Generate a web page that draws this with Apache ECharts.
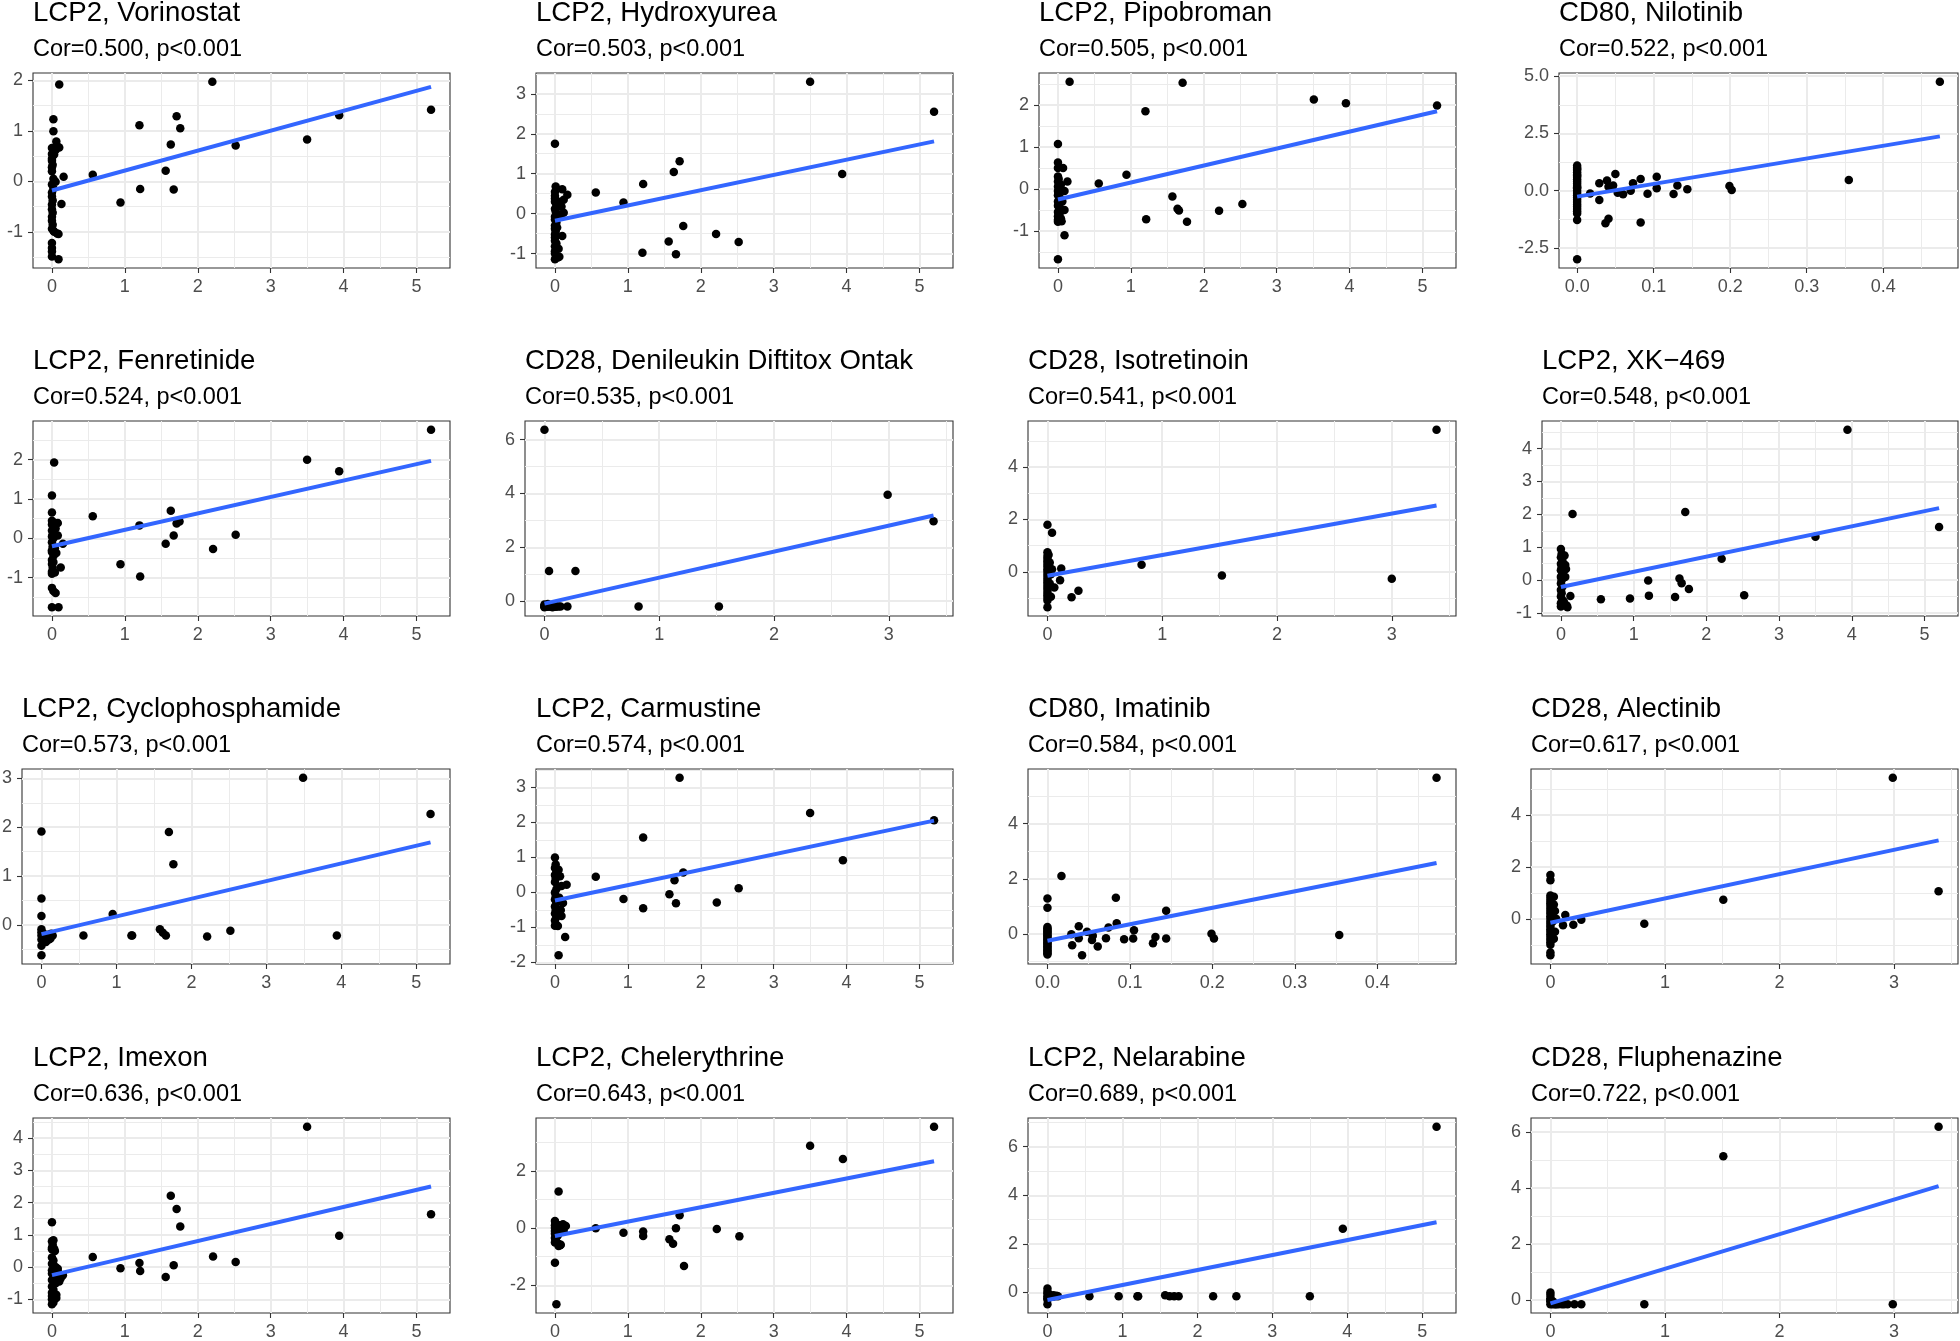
<!DOCTYPE html>
<html><head><meta charset="utf-8">
<script src="https://cdn.jsdelivr.net/npm/echarts@6/dist/echarts.min.js"></script>
<style>html,body{margin:0;padding:0;background:#fff}#c{width:1960px;height:1341px}</style>
</head><body><div id="c"></div>
<script>
// ---------------- DATA ----------------
const panelTitles = ['LCP2, Vorinostat','LCP2, Hydroxyurea','LCP2, Pipobroman','CD80, Nilotinib',
  'LCP2, Fenretinide','CD28, Denileukin Diftitox Ontak','CD28, Isotretinoin','LCP2, XK\u2212469',
  'LCP2, Cyclophosphamide','LCP2, Carmustine','CD80, Imatinib','CD28, Alectinib',
  'LCP2, Imexon','LCP2, Chelerythrine','LCP2, Nelarabine','CD28, Fluphenazine'];
const corValues = ['0.500','0.503','0.505','0.522','0.524','0.535','0.541','0.548',
  '0.573','0.574','0.584','0.617','0.636','0.643','0.689','0.722'];
const pValues = ['p<0.001','p<0.001','p<0.001','p<0.001','p<0.001','p<0.001','p<0.001','p<0.001',
  'p<0.001','p<0.001','p<0.001','p<0.001','p<0.001','p<0.001','p<0.001','p<0.001'];

const ticks0to5 = ['0','1','2','3','4','5'];
const ticks0to3 = ['0','1','2','3'];
const ticksCD80 = ['0.0','0.1','0.2','0.3','0.4'];
const xTickLabels = [ticks0to5,ticks0to5,ticks0to5,ticksCD80, ticks0to5,ticks0to3,ticks0to3,ticks0to5,
  ticks0to5,ticks0to5,ticksCD80,ticks0to3, ticks0to5,ticks0to5,ticks0to5,ticks0to3];
const yTickLabels = [
  ['-1','0','1','2'], ['-1','0','1','2','3'], ['-1','0','1','2'], ['-2.5','0.0','2.5','5.0'],
  ['-1','0','1','2'], ['0','2','4','6'], ['0','2','4'], ['-1','0','1','2','3','4'],
  ['0','1','2','3'], ['-2','-1','0','1','2','3'], ['0','2','4'], ['0','2','4'],
  ['-1','0','1','2','3','4'], ['-2','0','2'], ['0','2','4','6'], ['0','2','4','6']];

const vorinostatPts = [[0.56,0.13],[0.94,-0.42],[1.2,1.11],[1.21,-0.15],[1.56,0.21],[1.63,0.73],[1.67,-0.16],[1.71,1.29],[1.76,1.05],[2.2,1.97],[2.52,0.71],[3.5,0.83],[3.94,1.31],[5.2,1.42],
  [0.1,1.92],[0.02,1.23],[0.02,0.99],[0.06,0.79],[0,0.66],[0.1,0.67],[0.05,0.62],[0,0.54],[0.03,0.53],[0.07,0.7],[0,0.45],[0,0.41],[0.01,0.33],[0,0.28],[0,0.2],[0.16,0.09],[0.05,-0.01],[0,-0.06],[0.02,-0.14],[0.13,-0.45],[0,-0.22],[0,-0.3],[0.01,-0.38],[0,-0.46],[0,-0.55],[0.01,-0.62],[0,-0.7],[0,-0.78],[0.01,-0.86],[0,-0.94],[0.07,-1.03],[0.09,-1.04],[0.03,-1.0],[0,-1.22],[0,-1.32],[0,-1.39],[0,-1.49],[0.09,-1.54],[0.02,-0.98],[0.02,0.05]];
const vorinostatFit = [[0,-0.18],[5.2,1.87]];

const hydroxyureaPts = [[3.5,3.30],[5.2,2.55],[3.94,0.99],[2.52,-0.71],[2.21,-0.51],[1.76,-0.31],[1.71,1.31],[1.63,1.04],[1.56,-0.70],[1.66,-1.02],[1.21,0.74],[1.2,-0.98],[0.94,0.28],[0.56,0.53],[0,1.75],
  [0.01,0.68],[0.1,0.61],[0.17,0.47],[0.12,0.35],[0.05,0.3],[0,0.55],[0,0.45],[0,0.38],[0,0.3],[0.02,0.2],[0,0.12],[0.01,0.05],[0.08,-0.02],[0.12,0.02],[0,-0.08],[0,-0.15],[0.02,-0.22],[0,-0.3],[0,-0.38],[0.01,-0.45],[0.1,-0.56],[0,-0.52],[0,-0.6],[0,-0.68],[0.02,-0.75],[0,-0.82],[0.05,-0.88],[0,-0.94],[0,-1.0],[0.06,-1.08],[0.04,-1.1],[0,-1.14],[0.09,0.18],[0.03,-0.35]];
const hydroxyureaFit = [[0,-0.18],[5.2,1.81]];

const pipobromanPts = [[0.16,2.55],[1.71,2.53],[3.51,2.13],[3.95,2.04],[5.2,1.99],[1.2,1.85],[0.94,0.34],[0.56,0.13],[1.57,-0.18],[1.64,-0.47],[1.66,-0.51],[1.77,-0.78],[1.21,-0.72],[2.21,-0.52],[2.53,-0.36],[0.09,-1.1],[0,-1.67],
  [0.13,0.18],[0.07,0.5],[0,1.07],[0,0.63],[0,0.5],[0.05,-0.77],[0,-0.73],[0,0.3],[0.01,0.24],[0,0.18],[0.02,0.12],[0,0.06],[0.03,0.0],[0,-0.05],[0.09,-0.05],[0.01,-0.1],[0,-0.15],[0.02,-0.2],[0.05,-0.25],[0,-0.3],[0.01,-0.35],[0,-0.4],[0.03,-0.45],[0.09,-0.5],[0,-0.55],[0.02,-0.6],[0,-0.65],[0.04,-0.7],[0.06,-0.3],[0.04,0.1],[0.02,-0.02],[0,-0.78]];
const pipobromanFit = [[0,-0.25],[5.2,1.85]];

const nilotinibPts = [[0.474,4.75],[0.355,0.46],[0.199,0.2],[0.202,0.03],[0.144,0.06],[0.131,0.22],[0.126,-0.15],[0.104,0.61],[0.104,0.1],[0.092,-0.14],[0.083,0.51],[0.083,-1.39],[0.073,0.32],[0.07,0.0],[0.06,-0.16],[0.05,0.73],[0.047,0.22],[0.041,0.17],[0.039,0.44],[0.037,-1.42],[0.041,-1.23],[0.029,0.32],[0.029,-0.41],[0.053,-0.09],[0.017,-0.12],[0,-2.99],[0,-1.28],
  [0,1.1],[0,1.0],[0,0.9],[0,0.8],[0,0.7],[0,0.6],[0,0.5],[0,0.4],[0,0.3],[0,0.2],[0,0.1],[0,0],[0,-0.1],[0,-0.2],[0,-0.3],[0,-0.4],[0,-0.5],[0,-0.6],[0,-0.7],[0,-0.8],[0,-0.9],[0,-1.0],[0,0.95],[0,0.65],[0,0.15]];
const nilotinibFit = [[0,-0.26],[0.474,2.37]];

const fenretinidePts = [[5.2,2.76],[3.5,2.0],[3.94,1.71],[0.56,0.56],[1.63,0.70],[1.2,0.33],[1.75,0.43],[1.71,0.38],[1.67,0.07],[1.56,-0.14],[2.52,0.09],[2.21,-0.27],[0.94,-0.66],[1.21,-0.97],
  [0.03,1.93],[0,1.09],[0.15,-0.14],[0.12,-0.74],[0,0.66],[0,0.45],[0.03,0.4],[0.08,0.39],[0,0.35],[0.02,0.3],[0,0.2],[0.01,0.1],[0.08,0.07],[0,0.05],[0.02,0],[0,-0.1],[0.01,-0.2],[0,-0.3],[0.06,-0.37],[0,-0.35],[0.02,-0.45],[0,-0.55],[0,-0.65],[0.01,-0.75],[0,-0.85],[0.04,-0.87],[0,-0.9],[0,-1.26],[0.02,-1.34],[0.05,-1.39],[0,-1.75],[0.09,-1.75],[0.05,0.25],[0.04,-0.25],[0.02,-0.6]];
const fenretinideFit = [[0,-0.2],[5.2,1.97]];

const denileukinPts = [[0,6.36],[2.99,3.95],[3.39,2.97],[0.04,1.12],[0.27,1.12],[0.82,-0.2],[1.52,-0.2],[0.2,-0.2],
  [0,-0.2],[0,-0.18],[0,-0.22],[0.01,-0.2],[0.02,-0.21],[0.03,-0.1],[0.03,-0.19],[0.04,-0.2],[0.05,-0.2],[0.06,-0.15],[0.08,-0.2],[0.1,-0.18],[0.1,-0.21],[0.12,-0.2],[0.14,-0.2],[0,-0.12],[0.02,-0.16],[0.07,-0.22]];
const denileukinFit = [[0,-0.09],[3.39,3.18]];

const isotretinoinPts = [[3.39,5.42],[0,1.8],[0.04,1.49],[0.82,0.27],[1.52,-0.14],[3.0,-0.27],[0.27,-0.72],[0.21,-0.97],[0.12,0.13],[0.11,-0.32],[0.03,-0.95],[0.04,0.1],[0.03,-0.09],[0.06,-0.6],
  [0,0.75],[0,0.6],[0,0.5],[0,0.4],[0,0.3],[0,0.2],[0,0.1],[0,0],[0,-0.1],[0,-0.2],[0,-0.3],[0,-0.4],[0,-0.5],[0,-0.6],[0,-0.7],[0,-0.8],[0,-0.9],[0,-1.0],[0,-1.1],[0,-1.35],[0.02,0.35],[0.02,-0.45],[0.01,0.65]];
const isotretinoinFit = [[0,-0.15],[3.39,2.53]];

const xk469Pts = [[3.94,4.57],[1.71,2.07],[0.16,2.01],[5.2,1.62],[3.5,1.32],[2.21,0.65],[1.63,0.05],[1.66,-0.09],[1.2,-0.01],[1.76,-0.27],[1.57,-0.51],[1.21,-0.47],[2.52,-0.46],[0.55,-0.58],[0.95,-0.56],[0.13,-0.48],
  [0,0.95],[0.01,0.8],[0,0.7],[0.02,0.6],[0,0.5],[0.01,0.4],[0,0.3],[0.02,0.2],[0,0.1],[0.01,0],[0,-0.1],[0.02,-0.2],[0,-0.3],[0.01,-0.4],[0,-0.5],[0.02,-0.6],[0,-0.7],[0.01,-0.75],[0,-0.8],[0.07,0.34],[0.06,0.46],[0.08,-0.77],[0.09,-0.82],[0.05,0.75],[0.04,-0.65],[0.06,0.1]];
const xk469Fit = [[0,-0.21],[5.2,2.19]];

const cyclophosphamidePts = [[3.49,3.01],[5.19,2.27],[1.7,1.9],[1.76,1.24],[0.95,0.22],[0.56,-0.22],[1.21,-0.22],[1.2,-0.22],[1.58,-0.09],[1.62,-0.16],[1.66,-0.22],[2.21,-0.24],[2.52,-0.12],[3.94,-0.22],
  [0,1.91],[0,0.54],[0,0.18],[0,-0.62],[0,-0.43],[0.05,-0.31],[0,-0.09],[0,-0.22],[0.08,-0.22],[0.12,-0.28],[0.15,-0.22],[0.1,-0.3],[0.06,-0.35],[0.02,-0.25],[0,-0.15],[0.03,-0.18],[0.09,-0.2],[0.13,-0.18],[0,-0.3],[0.04,-0.24]];
const cyclophosphamideFit = [[0,-0.19],[5.19,1.69]];

const carmustinePts = [[1.71,3.27],[3.5,2.27],[5.2,2.06],[1.21,1.57],[3.95,0.92],[1.76,0.57],[1.64,0.35],[0.56,0.45],[0.16,0.22],[2.52,0.12],[1.57,-0.05],[0.94,-0.19],[1.66,-0.31],[2.22,-0.29],[1.21,-0.45],[0.14,-1.27],[0.05,-1.79],
  [0,1.0],[0.01,0.8],[0,0.7],[0.02,0.6],[0,0.5],[0.01,0.4],[0,0.3],[0.02,0.1],[0,0],[0.01,-0.1],[0,-0.2],[0.02,-0.3],[0,-0.4],[0.01,-0.5],[0,-0.6],[0.02,-0.7],[0,-0.8],[0.01,-0.9],[0,-0.95],[0.07,0.46],[0.09,0.18],[0.11,-0.3],[0.09,-0.67],[0.04,-0.96],[0.05,0.65],[0.08,-0.5],[0.06,-0.15]];
const carmustineFit = [[0,-0.23],[5.2,2.05]];

const imatinibPts = [[0.472,5.66],[0.017,2.1],[0.083,1.31],[0,1.28],[0,0.95],[0.144,0.84],[0.084,0.39],[0.038,0.28],[0.074,0.23],[0.105,0.13],[0.048,0.08],[0.029,-0.01],[0.354,-0.04],[0.199,0.01],[0.202,-0.17],[0.131,-0.11],[0.128,-0.34],[0.144,-0.17],[0.104,-0.17],[0.093,-0.19],[0.071,-0.16],[0.054,-0.22],[0.061,-0.46],[0.038,-0.16],[0.03,-0.41],[0.042,-0.77],[0.055,-0.07],
  [0,0.25],[0,0.15],[0,0.05],[0,-0.05],[0,-0.15],[0,-0.25],[0,-0.35],[0,-0.45],[0,-0.55],[0,-0.65],[0,-0.75],[0,0.2],[0,0.1],[0,0],[0,-0.1],[0,-0.2],[0,-0.3],[0,-0.4],[0,-0.5],[0,-0.6],[0,-0.7]];
const imatinibFit = [[0,-0.25],[0.472,2.57]];

const alectinibPts = [[2.99,5.43],[3.39,1.06],[1.51,0.73],[0.82,-0.19],[0,1.69],[0,1.49],[0.13,0.15],[0.2,-0.23],[0.27,-0.04],[0.11,-0.25],[0.03,-0.77],
  [0,0.9],[0,0.8],[0,0.7],[0,0.6],[0,0.5],[0,0.4],[0,0.3],[0,0.2],[0,0.1],[0,0],[0,-0.1],[0,-0.2],[0,-0.3],[0,-0.4],[0,-0.5],[0,-0.6],[0,-0.7],[0,-0.8],[0,-0.9],[0,-1.0],[0,-1.3],[0,-1.4],[0.03,0.85],[0.03,0.55],[0.04,0.3],[0.02,-0.1],[0.04,-0.5],[0.05,0]];
const alectinibFit = [[0,-0.15],[3.39,3.02]];

const imexonPts = [[3.5,4.35],[1.63,2.21],[1.71,1.8],[1.76,1.26],[5.2,1.64],[3.94,0.97],[2.21,0.33],[2.52,0.16],[0.56,0.31],[0.94,-0.04],[1.2,0.13],[1.21,-0.12],[1.67,0.06],[1.56,-0.31],
  [0,1.39],[0.02,0.83],[0.03,0.57],[0,0.8],[0.01,0.7],[0,0.6],[0,0.55],[0,0.3],[0.02,0.2],[0,0.1],[0.05,0],[0,-0.1],[0.08,-0.05],[0,-0.2],[0.15,-0.25],[0.03,-0.3],[0,-0.4],[0.1,-0.45],[0.05,-0.5],[0,-0.6],[0.02,-0.7],[0,-0.8],[0.06,-0.86],[0.06,-0.96],[0,-0.9],[0,-1.0],[0.02,-1.1],[0,-1.15],[0.12,-0.35],[0.08,-0.15],[0.04,0.5]];
const imexonFit = [[0,-0.25],[5.2,2.5]];

const chelerythrinePts = [[5.2,3.54],[3.5,2.88],[3.95,2.42],[1.71,0.45],[1.66,-0.01],[2.22,-0.03],[0.56,-0.01],[0.94,-0.16],[1.21,-0.12],[1.21,-0.28],[1.57,-0.39],[1.62,-0.55],[2.53,-0.29],[1.77,-1.33],
  [0.05,1.28],[0,-1.21],[0.02,-2.66],[0,0.25],[0.01,0.15],[0,0.1],[0.03,0.05],[0,0],[0.02,-0.05],[0,-0.1],[0.01,-0.15],[0,-0.2],[0.02,-0.3],[0,-0.35],[0.01,-0.4],[0,-0.5],[0.05,-0.55],[0.07,-0.6],[0.15,0.07],[0.11,0.13],[0.08,-0.58],[0.05,-0.63],[0.09,0.0],[0.12,-0.1],[0.06,0.1],[0.04,-0.25]];
const chelerythrineFit = [[0,-0.28],[5.2,2.34]];

const nelarabinePts = [[5.19,6.82],[3.94,2.62],[3.5,-0.16],[2.52,-0.16],[2.21,-0.16],[1.75,-0.16],[1.69,-0.16],[1.63,-0.16],[1.57,-0.12],[1.2,-0.16],[1.21,-0.16],[0.95,-0.16],[0.56,-0.16],[0,0.15],[0,-0.49],
  [0,-0.16],[0.02,-0.16],[0.04,-0.14],[0.05,-0.16],[0.07,-0.18],[0.1,-0.16],[0.12,-0.14],[0.14,-0.16],[0,-0.05],[0,-0.25],[0,-0.3],[0.02,-0.2],[0,0.02],[0.03,-0.1],[0.08,-0.12]];
const nelarabineFit = [[0,-0.32],[5.19,2.89]];

const fluphenazinePts = [[3.39,6.19],[1.51,5.14],[2.99,-0.15],[0.82,-0.15],[0,0.27],[0,0.18],[0,0.06],[0.27,-0.15],[0.21,-0.15],[0.12,-0.15],[0.07,-0.15],
  [0,-0.15],[0.01,-0.12],[0.02,-0.15],[0.03,-0.1],[0.04,-0.15],[0.05,-0.15],[0.1,-0.15],[0.15,-0.15],[0,-0.05],[0.02,-0.05],[0,0.0]];
const fluphenazineFit = [[0,-0.12],[3.39,4.07]];

const pointSets = [vorinostatPts,hydroxyureaPts,pipobromanPts,nilotinibPts,fenretinidePts,denileukinPts,isotretinoinPts,xk469Pts,
  cyclophosphamidePts,carmustinePts,imatinibPts,alectinibPts,imexonPts,chelerythrinePts,nelarabinePts,fluphenazinePts];
const fitSets = [vorinostatFit,hydroxyureaFit,pipobromanFit,nilotinibFit,fenretinideFit,denileukinFit,isotretinoinFit,xk469Fit,
  cyclophosphamideFit,carmustineFit,imatinibFit,alectinibFit,imexonFit,chelerythrineFit,nelarabineFit,fluphenazineFit];

// ---------------- LAYOUT ----------------
const rowTops = [73, 421, 769, 1118];
const rowHeight = 195;
const colBoxes = [
  [[33,450],[536,953],[1039,1456],[1559,1958]],
  [[33,450],[525,953],[1028,1456],[1542,1958]],
  [[22,450],[536,953],[1028,1456],[1531,1958]],
  [[33,450],[536,953],[1028,1456],[1531,1958]]];
const FONT = "'Liberation Sans', Arial, Helvetica, sans-serif";
const TITLE_SIZE = 27.6, SUB_SIZE = 23.5, TICK_SIZE = 18;

function toNum(s){ return parseFloat(s.replace('\u2212','-')); }
function extent(vals){
  const mn = Math.min(...vals), mx = Math.max(...vals);
  const pad = (mx - mn) * 0.05;
  return [mn - pad, mx + pad];
}
function minorVals(ticks, lo, hi){
  const step = ticks[1] - ticks[0];
  const out = [ticks[0] - step/2];
  for (let i = 0; i < ticks.length; i++) out.push(ticks[i] + step/2);
  return out.filter(v => v > lo && v < hi);
}

const grids = [], xAxes = [], yAxes = [], series = [], titles = [];
for (let i = 0; i < 16; i++) {
  const r = Math.floor(i / 4), c = i % 4;
  const [L, R] = colBoxes[r][c];
  const T = rowTops[r];
  grids.push({left: L, top: T, width: R - L, height: rowHeight, show: true,
    backgroundColor: '#FFFFFF', borderColor: '#333333', borderWidth: 1.1, outerBoundsMode: 'none', containLabel: false});
  const pts = pointSets[i], fit = fitSets[i];
  const allX = pts.map(p => p[0]).concat(fit.map(p => p[0]));
  const allY = pts.map(p => p[1]).concat(fit.map(p => p[1]));
  const [x0, x1] = extent(allX), [y0, y1] = extent(allY);
  const xl = xTickLabels[i], yl = yTickLabels[i];
  const xv = xl.map(toNum), yv = yl.map(toNum);
  const fmt = (labels, vals) => v => { const k = vals.findIndex(t => Math.abs(t - v) < 1e-9); return k >= 0 ? labels[k] : ''; };
  const axisCommon = {
    type: 'value', gridIndex: i, splitLine: {show: false},
    axisLine: {show: false, onZero: false},
  };
  xAxes.push(Object.assign({}, axisCommon, {min: x0, max: x1,
    axisTick: {show: true, length: 5, lineStyle: {color: '#333333', width: 1.1}, customValues: xv},
    axisLabel: {customValues: xv, formatter: fmt(xl, xv), color: '#4D4D4D', fontSize: TICK_SIZE, fontFamily: FONT, margin: 10}}));
  yAxes.push(Object.assign({}, axisCommon, {min: y0, max: y1,
    axisTick: {show: true, length: 5, lineStyle: {color: '#333333', width: 1.1}, customValues: yv},
    axisLabel: {customValues: yv, formatter: fmt(yl, yv), color: '#4D4D4D', fontSize: TICK_SIZE, fontFamily: FONT, margin: 10}}));

  const major = {color: '#EBEBEB', width: 2, type: 'solid'};
  const minor = {color: '#EBEBEB', width: 1, type: 'solid'};
  const gl = [];
  minorVals(xv, x0, x1).forEach(v => gl.push({xAxis: v, lineStyle: minor}));
  minorVals(yv, y0, y1).forEach(v => gl.push({yAxis: v, lineStyle: minor}));
  xv.filter(v => v > x0 && v < x1).forEach(v => gl.push({xAxis: v, lineStyle: major}));
  yv.filter(v => v > y0 && v < y1).forEach(v => gl.push({yAxis: v, lineStyle: major}));
  series.push({type: 'line', xAxisIndex: i, yAxisIndex: i, data: [], z: 1, silent: true,
    markLine: {z: 1, silent: true, symbol: ['none', 'none'], label: {show: false}, animation: false,
      lineStyle: {type: 'solid', color: '#EBEBEB'}, emphasis: {disabled: true}, data: gl}});
  series.push({type: 'scatter', xAxisIndex: i, yAxisIndex: i, data: pts, symbol: 'circle', symbolSize: 8.5, z: 3, silent: true,
    itemStyle: {color: '#000000', opacity: 1, borderWidth: 0},
    emphasis: {disabled: true}});
  series.push({type: 'line', xAxisIndex: i, yAxisIndex: i, data: fit, showSymbol: false, z: 4, silent: true,
    lineStyle: {color: '#3366FF', width: 4}, emphasis: {disabled: true}});

  titles.push({left: L, top: T - 49.8 - 0.86 * TITLE_SIZE, text: panelTitles[i], padding: 0,
    textStyle: {fontSize: TITLE_SIZE, fontWeight: 'normal', color: '#000000', fontFamily: FONT}});
  titles.push({left: L, top: T - 15.5 - 0.86 * SUB_SIZE, text: 'Cor=' + corValues[i] + ', ' + pValues[i], padding: 0,
    textStyle: {fontSize: SUB_SIZE, fontWeight: 'normal', color: '#000000', fontFamily: FONT}});
}

const chart = echarts.init(document.getElementById('c'), null, {renderer: 'canvas'});
chart.setOption({
  animation: false, backgroundColor: '#FFFFFF',
  title: titles, grid: grids, xAxis: xAxes, yAxis: yAxes, series: series
});
</script></body></html>
